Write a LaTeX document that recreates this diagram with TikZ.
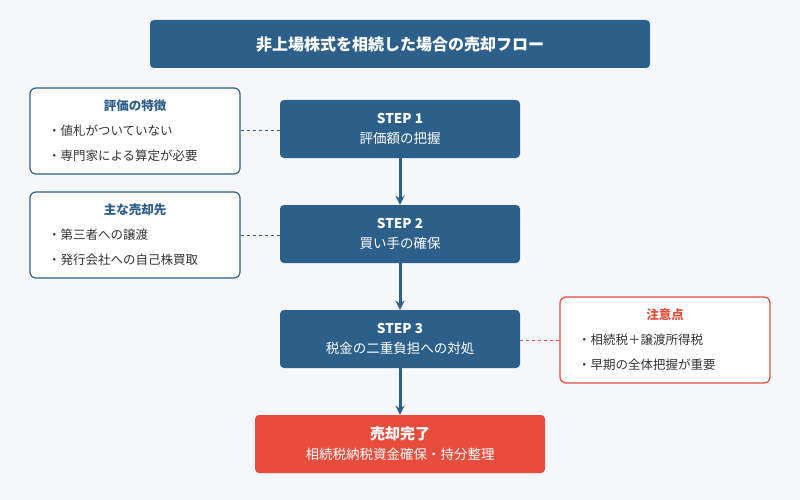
\documentclass[tikz,border=0pt]{standalone}
\usepackage{fontspec}
\setmainfont{Noto Sans CJK JP}
\usetikzlibrary{positioning}
\definecolor{stepblue}{HTML}{2C5F8A}
\definecolor{donered}{HTML}{E74C3C}
\definecolor{bgpaper}{HTML}{F5F7FA}
\definecolor{notetext}{HTML}{333333}
\tikzset{
  stepbox/.style={rectangle,rounded corners=4pt,fill=stepblue,text=white,
    minimum width=240pt,minimum height=58pt,align=center,font=\fontsize{13.5}{20}\selectfont},
  note/.style={rectangle,rounded corners=6pt,draw=stepblue,line width=1.2pt,fill=white,
    minimum width=210pt,minimum height=86pt,align=left,text=notetext,
    font=\fontsize{12.5}{25}\selectfont},
  flow/.style={->,>=stealth,line width=3pt,draw=stepblue},
  link/.style={dashed,line width=1pt,draw=stepblue}
}
\begin{document}
\begin{tikzpicture}[x=1pt,y=-1pt]
  \fill[bgpaper] (0,0) rectangle (800,500);
  \useasboundingbox (0,0) rectangle (800,500);
  % title
  \node[stepbox,minimum width=500pt,minimum height=48pt,font=\bfseries\fontsize{16}{20}\selectfont]
    (title) at (400,44) {非上場株式を相続した場合の売却フロー};
  % steps
  \node[stepbox] (s1) at (400,129) {\textbf{STEP 1}\\評価額の把握};
  \node[stepbox] (s2) at (400,234) {\textbf{STEP 2}\\買い手の確保};
  \node[stepbox] (s3) at (400,339) {\textbf{STEP 3}\\税金の二重負担への対処};
  \node[stepbox,fill=donered,minimum width=290pt] (done) at (400,444)
    {{\bfseries\fontsize{15}{19}\selectfont 売却完了}\\相続税納税資金確保・持分整理};
  \draw[flow] (s1) -- (s2);
  \draw[flow] (s2) -- (s3);
  \draw[flow] (s3) -- (done);
  % notes
  \node[note] (n1) at (135,131)
    {\makebox[186pt]{\textcolor{stepblue}{\bfseries 評価の特徴}}\\\hspace{6pt}・値札がついていない\\\hspace{6pt}・専門家による算定が必要};
  \node[note] (n2) at (135,235)
    {\makebox[186pt]{\textcolor{stepblue}{\bfseries 主な売却先}}\\\hspace{6pt}・第三者への譲渡\\\hspace{6pt}・発行会社への自己株買取};
  \node[note,draw=donered] (n3) at (665,340)
    {\makebox[186pt]{\textcolor{donered}{\bfseries 注意点}}\\\hspace{6pt}・相続税＋譲渡所得税\\\hspace{6pt}・早期の全体把握が重要};
  \draw[link] (n1.east) -- (s1.west|-n1.east);
  \draw[link] (n2.east) -- (s2.west|-n2.east);
  \draw[link,draw=donered] (s3.east|-n3.west) -- (n3.west);
\end{tikzpicture}
\end{document}
